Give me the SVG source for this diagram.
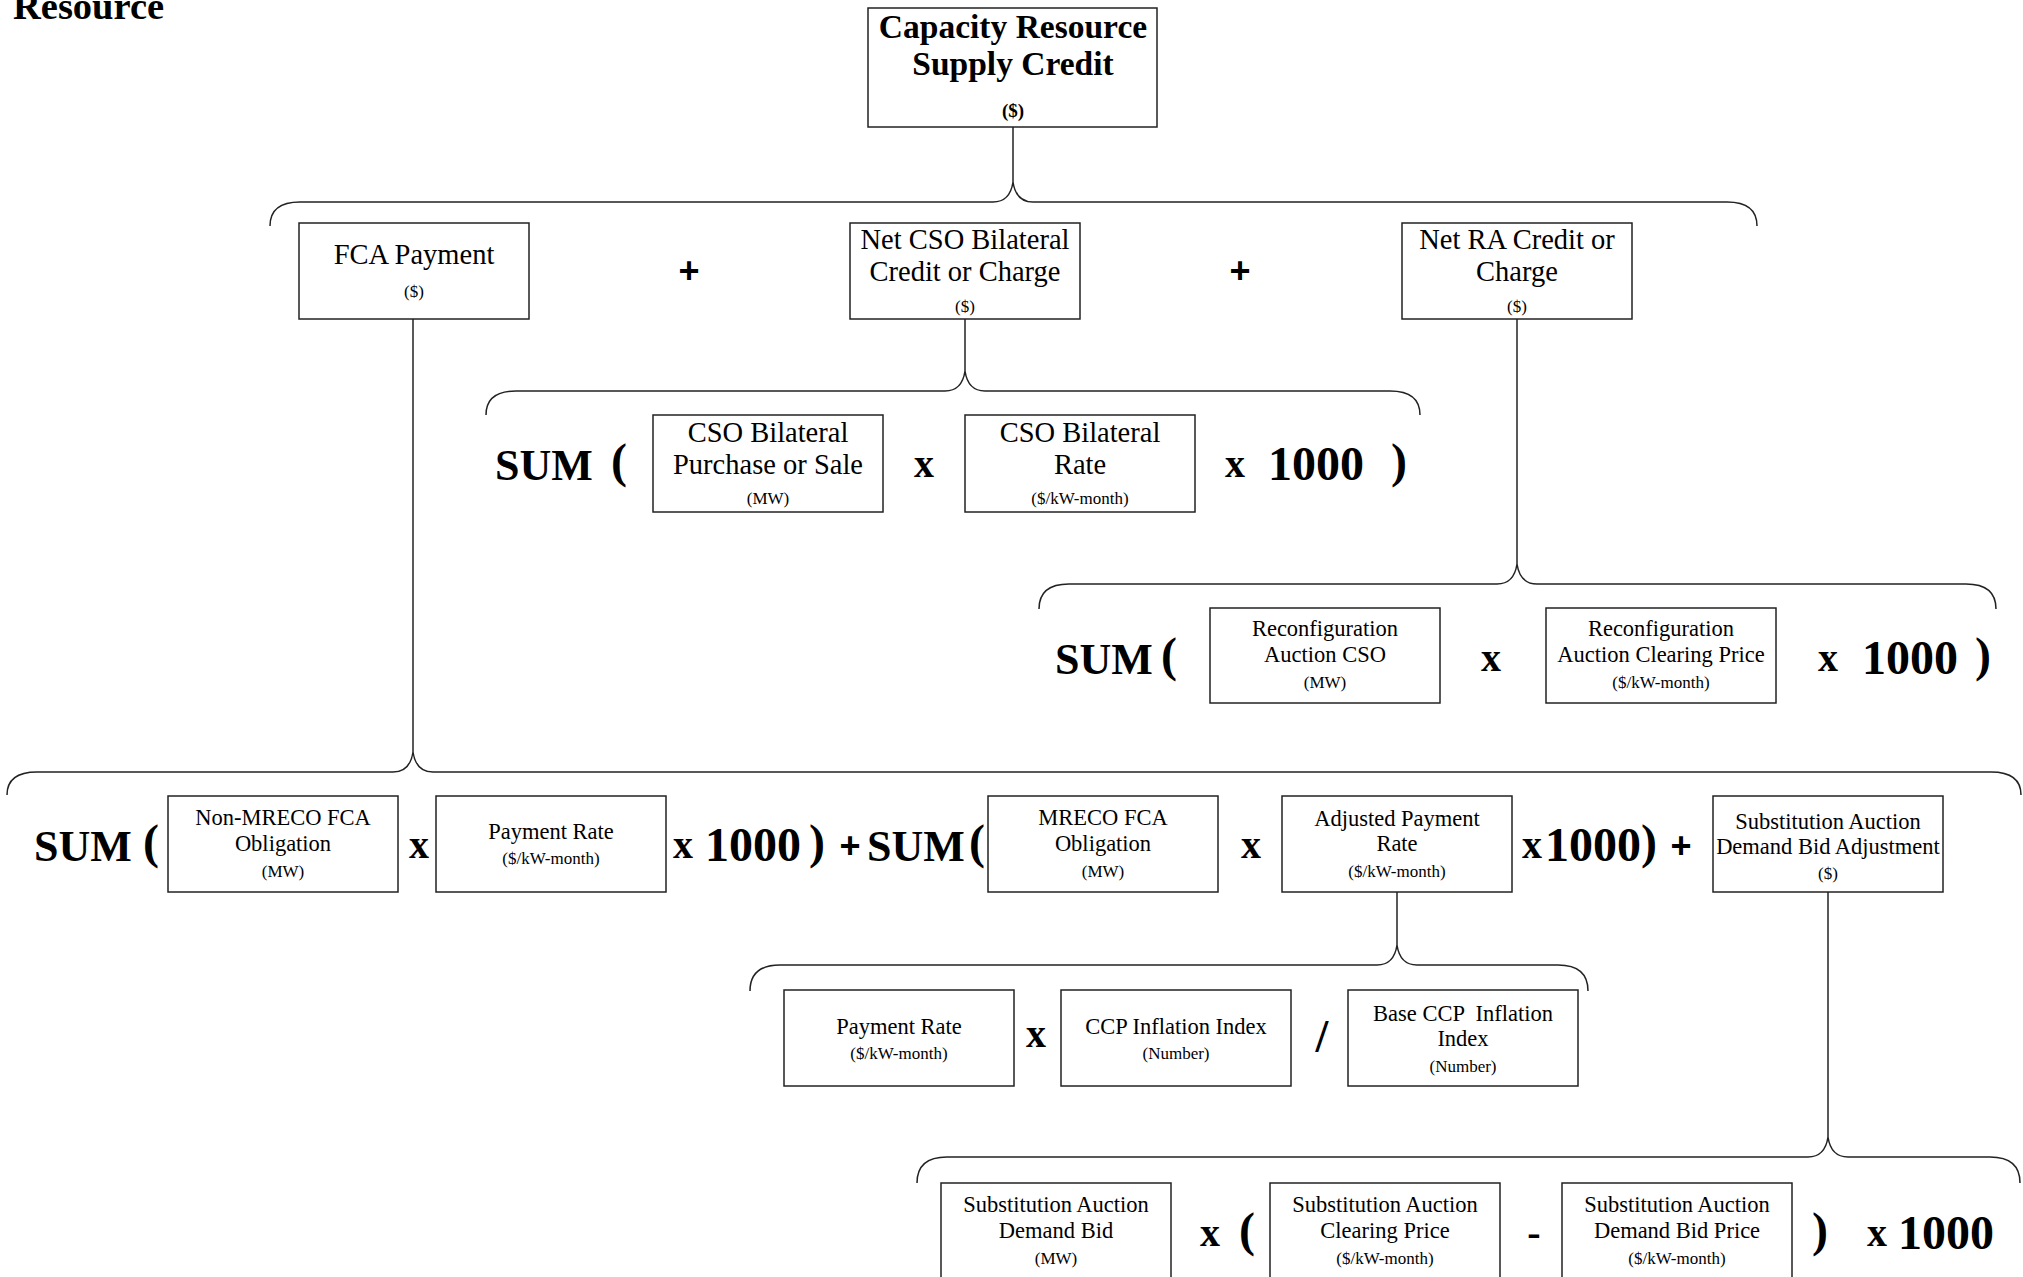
<svg xmlns="http://www.w3.org/2000/svg" width="2023" height="1277" viewBox="0 0 2023 1277">
<style>
  .box{fill:#fff;stroke:#222;stroke-width:1.5}
  .conn{fill:none;stroke:#222;stroke-width:1.5}
  .t{font-family:"Liberation Serif",serif;text-anchor:middle;fill:#000}
  .h{font-size:28.5px}
  .m{font-size:22.5px}
  .s{font-size:17px}
  .op{font-family:"Liberation Serif",serif;font-weight:bold;fill:#000;text-anchor:middle}
  .sum{font-size:44px;text-anchor:start}
  .x{font-size:40px}
  .par{font-size:48px}
  .num{font-size:48px}
  .plus{font-family:"Liberation Sans",sans-serif;font-weight:bold;font-size:36px;text-anchor:middle;fill:#000}
</style>
<rect width="2023" height="1277" fill="#fff"/>
<text x="13" y="19" style="font-family:'Liberation Serif',serif;font-weight:bold;font-size:38.5px">Resource</text>

<g id="connectors">
  <path class="conn" d="M1013,127 V182"/>
  <path class="conn" d="M270,226 C270,210 280,202 300,202 H993 Q1010,202 1013,182 Q1016,202 1033,202 H1727 C1747,202 1757,210 1757,226"/>
  <path class="conn" d="M965,319 V371"/>
  <path class="conn" d="M486,415 C486,399 496,391 516,391 H945 Q962,391 965,371 Q968,391 985,391 H1390 C1410,391 1420,399 1420,415"/>
  <path class="conn" d="M1517,319 V564"/>
  <path class="conn" d="M1039,609 C1039,592 1049,584 1069,584 H1497 Q1514,584 1517,564 Q1520,584 1537,584 H1966 C1986,584 1996,592 1996,609"/>
  <path class="conn" d="M413,319 V752"/>
  <path class="conn" d="M7,795 C7,780 17,772 37,772 H393 Q410,772 413,752 Q416,772 433,772 H1991 C2011,772 2021,780 2021,795"/>
  <path class="conn" d="M1397,892 V945"/>
  <path class="conn" d="M750,991 C750,974 760,965 780,965 H1377 Q1394,965 1397,945 Q1400,965 1417,965 H1558 C1578,965 1588,974 1588,991"/>
  <path class="conn" d="M1828,892 V1137"/>
  <path class="conn" d="M917,1183 C917,1166 927,1157 947,1157 H1808 Q1825,1157 1828,1137 Q1831,1157 1848,1157 H1990 C2010,1157 2020,1166 2020,1183"/>
</g>

<g id="capacity-resource-supply-credit">
  <rect class="box" x="868" y="8" width="289" height="119"/>
  <text class="t" x="1013" y="38" style="font-weight:bold;font-size:33.5px">Capacity Resource</text>
  <text class="t" x="1013" y="75" style="font-weight:bold;font-size:33.5px">Supply Credit</text>
  <text class="t" x="1013" y="117" style="font-weight:bold;font-size:19px">($)</text>
</g>

<g id="fca-payment">
  <rect class="box" x="299" y="223" width="230" height="96"/>
  <text class="t h" x="414" y="264">FCA Payment</text>
  <text class="t s" x="414" y="297">($)</text>
</g>
<text class="plus" x="689" y="283">+</text>
<g id="net-cso-bilateral">
  <rect class="box" x="850" y="223" width="230" height="96"/>
  <text class="t h" x="965" y="249">Net CSO Bilateral</text>
  <text class="t h" x="965" y="281">Credit or Charge</text>
  <text class="t s" x="965" y="312">($)</text>
</g>
<text class="plus" x="1240" y="283">+</text>
<g id="net-ra-credit">
  <rect class="box" x="1402" y="223" width="230" height="96"/>
  <text class="t h" x="1517" y="249">Net RA Credit or</text>
  <text class="t h" x="1517" y="281">Charge</text>
  <text class="t s" x="1517" y="312">($)</text>
</g>

<!-- Row 3 -->
<text class="op sum" x="495" y="480">SUM</text>
<text class="op par" x="619" y="477">(</text>
<g id="cso-bilateral-purchase">
  <rect class="box" x="653" y="415" width="230" height="97"/>
  <text class="t h" x="768" y="442">CSO Bilateral</text>
  <text class="t h" x="768" y="474">Purchase or Sale</text>
  <text class="t s" x="768" y="504">(MW)</text>
</g>
<text class="op x" x="924" y="477">x</text>
<g id="cso-bilateral-rate">
  <rect class="box" x="965" y="415" width="230" height="97"/>
  <text class="t h" x="1080" y="442">CSO Bilateral</text>
  <text class="t h" x="1080" y="474">Rate</text>
  <text class="t s" x="1080" y="504">($/kW-month)</text>
</g>
<text class="op x" x="1235" y="477">x</text>
<text class="op num" x="1316" y="480">1000</text>
<text class="op par" x="1399" y="477">)</text>

<!-- Row 4 -->
<text class="op sum" x="1055" y="674">SUM</text>
<text class="op par" x="1169" y="671">(</text>
<g id="reconfiguration-auction-cso">
  <rect class="box" x="1210" y="608" width="230" height="95"/>
  <text class="t m" x="1325" y="636">Reconfiguration</text>
  <text class="t m" x="1325" y="662">Auction CSO</text>
  <text class="t s" x="1325" y="688">(MW)</text>
</g>
<text class="op x" x="1491" y="671">x</text>
<g id="reconfiguration-auction-clearing-price">
  <rect class="box" x="1546" y="608" width="230" height="95"/>
  <text class="t m" x="1661" y="636">Reconfiguration</text>
  <text class="t m" x="1661" y="662">Auction Clearing Price</text>
  <text class="t s" x="1661" y="688">($/kW-month)</text>
</g>
<text class="op x" x="1828" y="671">x</text>
<text class="op num" x="1910" y="674">1000</text>
<text class="op par" x="1983" y="671">)</text>

<!-- Row 5 -->
<text class="op sum" x="34" y="861">SUM</text>
<text class="op par" x="151" y="858">(</text>
<g id="non-mreco-fca-obligation">
  <rect class="box" x="168" y="796" width="230" height="96"/>
  <text class="t m" x="283" y="825">Non-MRECO FCA</text>
  <text class="t m" x="283" y="851">Obligation</text>
  <text class="t s" x="283" y="877">(MW)</text>
</g>
<text class="op x" x="419" y="858">x</text>
<g id="payment-rate">
  <rect class="box" x="436" y="796" width="230" height="96"/>
  <text class="t m" x="551" y="839">Payment Rate</text>
  <text class="t s" x="551" y="864">($/kW-month)</text>
</g>
<text class="op x" x="683" y="858">x</text>
<text class="op num" x="753" y="861">1000</text>
<text class="op par" x="817" y="858">)</text>
<text class="plus" x="850" y="858">+</text>
<text class="op sum" x="867" y="861">SUM</text>
<text class="op par" x="977" y="858">(</text>
<g id="mreco-fca-obligation">
  <rect class="box" x="988" y="796" width="230" height="96"/>
  <text class="t m" x="1103" y="825">MRECO FCA</text>
  <text class="t m" x="1103" y="851">Obligation</text>
  <text class="t s" x="1103" y="877">(MW)</text>
</g>
<text class="op x" x="1251" y="858">x</text>
<g id="adjusted-payment-rate">
  <rect class="box" x="1282" y="796" width="230" height="96"/>
  <text class="t m" x="1397" y="826">Adjusted Payment</text>
  <text class="t m" x="1397" y="851">Rate</text>
  <text class="t s" x="1397" y="877">($/kW-month)</text>
</g>
<text class="op x" x="1532" y="858">x</text>
<text class="op num" x="1593" y="861">1000</text>
<text class="op par" x="1649" y="858">)</text>
<text class="plus" x="1681" y="858">+</text>
<g id="substitution-auction-demand-bid-adjustment">
  <rect class="box" x="1713" y="796" width="230" height="96"/>
  <text class="t m" x="1828" y="829">Substitution Auction</text>
  <text class="t m" x="1828" y="854">Demand Bid Adjustment</text>
  <text class="t s" x="1828" y="879">($)</text>
</g>

<!-- Row 6 -->
<g id="payment-rate-2">
  <rect class="box" x="784" y="990" width="230" height="96"/>
  <text class="t m" x="899" y="1034">Payment Rate</text>
  <text class="t s" x="899" y="1059">($/kW-month)</text>
</g>
<text class="op x" x="1036" y="1047">x</text>
<g id="ccp-inflation-index">
  <rect class="box" x="1061" y="990" width="230" height="96"/>
  <text class="t m" x="1176" y="1034">CCP Inflation Index</text>
  <text class="t s" x="1176" y="1059">(Number)</text>
</g>
<text class="op" x="1322" y="1052" style="font-size:46px">/</text>
<g id="base-ccp-inflation-index">
  <rect class="box" x="1348" y="990" width="230" height="96"/>
  <text class="t m" x="1463" y="1021" xml:space="preserve">Base CCP  Inflation</text>
  <text class="t m" x="1463" y="1046">Index</text>
  <text class="t s" x="1463" y="1072">(Number)</text>
</g>

<!-- Row 7 -->
<g id="substitution-auction-demand-bid">
  <rect class="box" x="941" y="1183" width="230" height="100"/>
  <text class="t m" x="1056" y="1212">Substitution Auction</text>
  <text class="t m" x="1056" y="1238">Demand Bid</text>
  <text class="t s" x="1056" y="1264">(MW)</text>
</g>
<text class="op x" x="1210" y="1246">x</text>
<text class="op par" x="1247" y="1246">(</text>
<g id="substitution-auction-clearing-price">
  <rect class="box" x="1270" y="1183" width="230" height="100"/>
  <text class="t m" x="1385" y="1212">Substitution Auction</text>
  <text class="t m" x="1385" y="1238">Clearing Price</text>
  <text class="t s" x="1385" y="1264">($/kW-month)</text>
</g>
<text class="op x" x="1534" y="1246">-</text>
<g id="substitution-auction-demand-bid-price">
  <rect class="box" x="1562" y="1183" width="230" height="100"/>
  <text class="t m" x="1677" y="1212">Substitution Auction</text>
  <text class="t m" x="1677" y="1238">Demand Bid Price</text>
  <text class="t s" x="1677" y="1264">($/kW-month)</text>
</g>
<text class="op par" x="1820" y="1246">)</text>
<text class="op x" x="1877" y="1246">x</text>
<text class="op num" x="1946" y="1249">1000</text>
</svg>
